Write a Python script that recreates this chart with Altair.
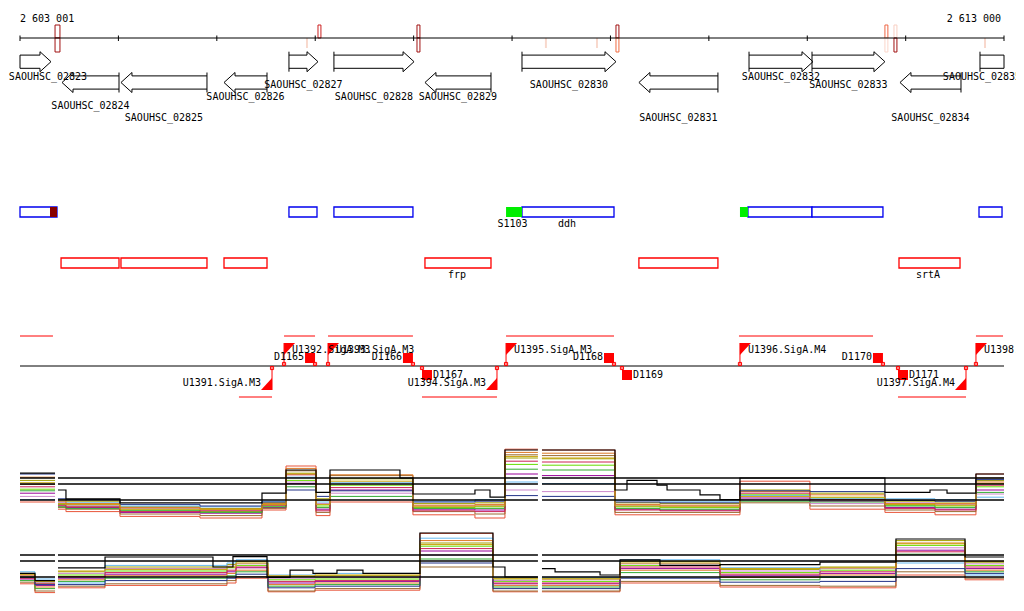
import altair as alt
import pandas as pd

# ----------------------------- data -----------------------------
VIEW_START, VIEW_END = 2603001, 2613000
AXIS_TICKS = [2603001, 2604001, 2605001, 2606001, 2607001, 2608001,
              2609001, 2610001, 2611001, 2612001, 2613000]
AXIS_LABELS = ["2 603 001", "2 613 000"]

GENE_NAMES = ["SAOUHSC_02823", "SAOUHSC_02824", "SAOUHSC_02825", "SAOUHSC_02826",
              "SAOUHSC_02827", "SAOUHSC_02828", "SAOUHSC_02829", "SAOUHSC_02830",
              "SAOUHSC_02831", "SAOUHSC_02832", "SAOUHSC_02833", "SAOUHSC_02834",
              "SAOUHSC_02835"]
GENE_START = [2602800, 2603428, 2604027, 2605074, 2605734, 2606191, 2607116,
              2608102, 2609290, 2610409, 2611049, 2611943, 2612756]
GENE_END = [2603316, 2604007, 2604901, 2605511, 2606029, 2607005, 2607787,
            2609057, 2610093, 2611059, 2611790, 2612563, 2613300]
GENE_STRAND = ["+", "-", "-", "-", "+", "+", "-", "+", "-", "+", "+", "-", "+"]
GENE_LABEL_ROW = [0, 3, 4, 2, 1, 2, 2, 1, 4, 0, 1, 4, 0]

# variant markers on the ruler (left edge, width, upper colour, lower colour)
MARK_POS = [2603357, 2606029, 2607035, 2609057, 2611790, 2611882]
MARK_WIDTH = [50, 30, 30, 30, 30, 30]
MARK_UP = ["#a01010", "#cc2020", "#a01010", "#a01010", "#ee6644", "#f8cfc2"]
MARK_DOWN = ["#a01010", "", "#a01010", "#f06a40", "#fbd6ca", "#a01010"]
FAINT_POS = [2605907, 2608335, 2608854, 2612797]

# transcript boxes (row 1 blue outlined, row 2 red outlined)
BLUE_START = [2603001, 2605734, 2606191, 2608102, 2610398, 2611049, 2612746]
BLUE_END = [2603377, 2606019, 2606994, 2609037, 2611049, 2611770, 2612980]
FILL_START = [2603306, 2607940, 2610317]
FILL_END = [2603377, 2608102, 2610398]
FILL_COLOR = ["#880000", "#00ee00", "#00ee00"]
ROW1_LABELS = ["S1103", "ddh"]
ROW1_LABEL_POS = [2608006, 2608559]
RED_START = [2603418, 2604027, 2605074, 2607116, 2609290, 2611933]
RED_END = [2604007, 2604901, 2605511, 2607787, 2610093, 2612553]
ROW2_LABELS = ["frp", "srtA"]
ROW2_LABEL_POS = [2607441, 2612228]

# transcription units, promoters, terminators
TU_UP_START = [2603001, 2605684, 2606131, 2607940, 2610307, 2612715]
TU_UP_END = [2603336, 2605999, 2606994, 2609037, 2611669, 2612990]
TU_DN_START = [2605226, 2607086, 2611923]
TU_DN_END = [2605562, 2607848, 2612614]
PROM_NAME = ["U1391.SigA.M3", "U1392.SigA.M3", "U1393.SigA.M3", "U1394.SigA.M3",
             "U1395.SigA.M3", "U1396.SigA.M4", "U1397.SigA.M4", "U1398.SigA.M3"]
PROM_POS = [2605562, 2605684, 2606131, 2607848, 2607940, 2610317, 2612614, 2612715]
PROM_STRAND = ["-", "+", "+", "-", "+", "+", "-", "+"]
TERM_NAME = ["D1165", "D1166", "D1167", "D1168", "D1169", "D1170", "D1171"]
TERM_POS = [2605999, 2606994, 2607086, 2609037, 2609118, 2611770, 2611923]
TERM_STRAND = ["+", "+", "-", "+", "-", "+", "-"]

# expression profiles: segment break points (bp) per contiguous piece
P1_BREAKS = [
    [2603001, 2603357],
    [2603387, 2603468, 2604017, 2604830, 2605460, 2605704, 2606009, 2606151,
     2606994, 2607624, 2607929, 2608264],
    [2608305, 2609047, 2609504, 2610317, 2611028, 2611790, 2612299, 2612715, 2613000],
]
P1_SERIES = {
    "s01": [3.5, 2.6, 2.3, 1.7, 1.5, 2.5, 8.0, 1.8, 3.5, 1.9, 1.5, 10.1, 10.0, 1.9, 1.9, 6.1, 2.6, 2.2, 1.9, 7.0],
    "s02": [6.2, 3.8, 3.6, 2.9, 2.7, 3.4, 7.1, 3.9, 6.4, 3.3, 3.4, 9.0, 8.9, 3.4, 3.3, 5.0, 4.6, 3.6, 3.5, 6.2],
    "s03": [5.1, 3.2, 3.0, 2.5, 2.3, 3.0, 6.2, 3.0, 5.6, 2.8, 2.9, 8.2, 8.1, 2.9, 2.8, 4.4, 4.0, 3.1, 3.0, 5.4],
    "s04": [4.6, 3.0, 2.8, 2.2, 2.1, 2.8, 5.8, 2.6, 5.0, 2.6, 2.5, 7.0, 6.8, 2.6, 2.5, 4.0, 3.6, 2.8, 2.6, 5.0],
    "s05": [3.8, 3.5, 3.4, 3.0, 2.9, 3.6, 6.6, 3.5, 5.9, 3.6, 3.8, 6.0, 5.8, 3.7, 3.6, 4.3, 3.9, 3.9, 3.8, 4.1],
    "s06": [5.7, 2.8, 2.6, 2.0, 1.8, 2.7, 7.4, 2.2, 6.8, 2.3, 2.0, 9.4, 9.3, 2.2, 2.2, 3.4, 3.0, 2.5, 2.3, 6.5],
    "s07": [4.2, 3.4, 3.1, 2.7, 2.5, 3.2, 6.0, 3.3, 4.6, 3.0, 3.1, 5.0, 4.8, 3.1, 3.0, 3.8, 3.3, 3.4, 3.2, 4.5],
    "s08": [6.6, 3.6, 3.3, 2.8, 2.6, 3.3, 7.7, 3.7, 6.9, 3.1, 3.2, 9.7, 9.6, 3.2, 3.1, 4.8, 4.4, 3.3, 3.3, 6.0],
    "s09": [4.9, 2.9, 2.7, 2.4, 2.2, 2.9, 5.4, 2.8, 4.2, 2.7, 2.7, 7.6, 7.5, 2.7, 2.6, 3.6, 3.5, 3.0, 2.8, 4.7],
    "s10": [5.4, 3.1, 2.9, 2.3, 2.4, 3.1, 6.9, 2.4, 5.3, 2.4, 2.3, 8.6, 8.5, 2.5, 2.4, 4.6, 3.8, 2.7, 2.5, 5.6],
    "s11": [7.0, 3.9, 3.8, 3.2, 3.0, 3.5, 5.0, 4.2, 4.9, 3.5, 3.6, 4.3, 4.2, 3.5, 3.4, 4.9, 4.8, 3.7, 3.6, 6.3],
    "s12": [5.9, 3.3, 3.2, 2.6, 2.6, 3.2, 7.0, 3.2, 6.1, 2.9, 3.0, 9.2, 9.0, 3.0, 2.9, 4.2, 4.1, 3.2, 3.1, 5.8],
}
P1_BLACK_BREAKS = [
    [2603001, 2603357],
    [2603387, 2603468, 2604017, 2605460, 2605704, 2606009, 2606151, 2606862,
     2606994, 2607624, 2607777, 2607929, 2608264],
    [2608305, 2609047, 2609169, 2609474, 2609576, 2609911, 2610114, 2610317,
     2611790, 2612248, 2612421, 2612715, 2613000],
]
P1_BLACK = [7.1,
            5.0, 3.9, 3.4, 4.6, 7.5, 4.7, 7.5, 6.5, 4.5, 5.0, 4.1, 10.0,
            10.0, 5.0, 6.2, 5.6, 5.0, 4.4, 3.8, 6.5, 4.7, 5.0, 4.6, 7.0]

P2_BREAKS = [
    [2603001, 2603153, 2603357],
    [2603387, 2603865, 2605104, 2605196, 2605521, 2605999, 2607065, 2607807, 2608264],
    [2608305, 2609098, 2610114, 2611130, 2611902, 2612604, 2613000],
]
P2_SERIES = {
    "s01": [2.9, 1.8, 2.4, 2.7, 3.0, 3.6, 1.9, 2.1, 9.2, 1.9, 1.9, 3.0, 2.5, 2.4, 4.0, 3.4],
    "s02": [4.2, 3.3, 4.4, 5.0, 5.3, 5.7, 3.8, 3.9, 8.0, 3.5, 3.6, 5.7, 4.7, 5.0, 8.3, 5.6],
    "s03": [3.8, 3.0, 4.0, 4.5, 4.9, 5.2, 3.4, 3.5, 7.6, 3.2, 3.2, 5.2, 4.3, 4.6, 7.7, 5.2],
    "s04": [3.5, 2.7, 3.6, 4.1, 4.4, 4.9, 3.0, 3.2, 7.0, 2.9, 2.9, 4.8, 3.9, 4.2, 7.1, 4.8],
    "s05": [4.4, 3.5, 3.0, 5.2, 5.5, 5.9, 4.0, 4.2, 8.6, 3.7, 3.7, 5.9, 4.9, 3.8, 5.5, 4.0],
    "s06": [3.1, 2.0, 2.6, 2.9, 3.3, 3.8, 2.0, 2.3, 5.0, 2.0, 2.0, 3.2, 2.7, 2.6, 4.4, 3.6],
    "s07": [3.9, 3.1, 4.2, 4.8, 5.1, 5.4, 3.6, 3.7, 6.5, 3.3, 3.4, 5.4, 4.5, 4.8, 7.4, 5.4],
    "s08": [4.0, 2.5, 3.4, 3.9, 4.2, 4.6, 2.8, 3.0, 8.3, 2.7, 2.7, 4.6, 3.7, 4.0, 8.0, 4.6],
    "s09": [3.3, 2.3, 3.2, 3.6, 3.9, 4.4, 2.6, 2.8, 6.0, 2.5, 2.5, 4.3, 3.4, 3.7, 6.6, 4.4],
    "s10": [3.6, 2.9, 3.8, 4.3, 4.6, 5.0, 3.2, 3.3, 7.3, 3.0, 3.0, 5.0, 4.1, 4.4, 6.9, 5.0],
    "s11": [3.7, 2.8, 2.8, 3.3, 3.6, 4.1, 2.4, 2.6, 5.5, 2.3, 2.3, 3.6, 3.1, 3.2, 4.8, 4.2],
    "s12": [4.1, 3.2, 4.5, 4.7, 5.0, 5.5, 3.9, 4.0, 7.8, 3.6, 3.5, 5.5, 4.8, 4.9, 7.9, 5.7],
}
P2_BLACK_BREAKS = [
    [2603001, 2603153, 2603357],
    [2603387, 2603865, 2604962, 2605165, 2605511, 2605745, 2605978, 2606222,
     2606486, 2607065, 2607807, 2607929, 2608264],
    [2608305, 2608438, 2608895, 2609098, 2609504, 2610114, 2611130, 2611902,
     2612604, 2613000],
]
P2_BLACK = [4.2, 3.3,
            4.9, 6.25, 5.0, 6.3, 3.7, 4.6, 4.2, 4.6, 4.2, 9.25, 5.0, 3.75,
            4.8, 4.4, 4.0, 5.9, 5.2, 5.3, 5.6, 8.5, 6.25]
SERIES_COLORS = ["#e8553a", "#a0a000", "#66dd00", "#990099", "#66b8f0", "#9a6a30",
                 "#cc88cc", "#dd7722", "#33aa33", "#cc2255", "#223388", "#c8a000"]
THRESHOLDS = [6.5, 5.75, 3.75]

# ----------------------------- layout (plot pixels) -----------------------------
W, H = 1008, 595
BP_PX = (VIEW_END - VIEW_START) / 984.0
HEAD_BP = 11 * BP_PX
AXIS_Y = 30
FWD_Y, REV_Y, BODY_H, HEAD_H = 53.7, 74.5, 6.6, 10.0
LABEL_ROWS = [68.7, 77.0, 89.3, 98.0, 110.3]
LABEL_MIN_CENTER = VIEW_START + 28 * BP_PX   # keep edge labels inside the page
LABEL_MAX_CENTER = VIEW_END - 22 * BP_PX
FONT = "DejaVu Sans Mono"
RED, BLUE = "#ff0000", "#0000ee"

X = alt.Scale(domain=[VIEW_START, VIEW_END], range=[12, 996])
LAY = alt.Scale(domain=[0, H], range=[0, H])
P1 = alt.Scale(domain=[0, 12], range=[522, 426])
P2 = alt.Scale(domain=[0, 12], range=[599, 503])


def xq(f="x"):
    return alt.X(f"{f}:Q", scale=X, axis=None)


def yl(f="y"):
    return alt.Y(f"{f}:Q", scale=LAY, axis=None)


segs = []


def seg(x, x2, y, y2, c="black", w=1.0):
    segs.append(dict(x=x, x2=x2, y=y, y2=y2, c=c, w=w))


# ruler
seg(VIEW_START, VIEW_END, AXIS_Y, AXIS_Y)
for t in AXIS_TICKS:
    seg(t, t, AXIS_Y - 2.5, AXIS_Y + 3)

# genes
heads, glabels = [], []
for name, s, e, st, row in zip(GENE_NAMES, GENE_START, GENE_END, GENE_STRAND, GENE_LABEL_ROW):
    vs, ve = max(s, VIEW_START), min(e, VIEW_END)
    cy = FWD_Y if st == "+" else REV_Y
    if st == "+":
        b0 = vs
        b1 = e - HEAD_BP if e <= VIEW_END else VIEW_END
        if e <= VIEW_END:
            heads.append(dict(x=e, y=cy, st="g" + st))
        else:
            seg(VIEW_END, VIEW_END, cy - BODY_H, cy + BODY_H)
        if s >= VIEW_START:
            seg(s, s, cy - HEAD_H, cy + HEAD_H)
        else:
            seg(VIEW_START, VIEW_START, cy - BODY_H, cy + BODY_H)
    else:
        b0 = s + HEAD_BP if s >= VIEW_START else VIEW_START
        b1 = ve
        if s >= VIEW_START:
            heads.append(dict(x=s, y=cy, st="g" + st))
        else:
            seg(VIEW_START, VIEW_START, cy - BODY_H, cy + BODY_H)
        if e <= VIEW_END:
            seg(e, e, cy - HEAD_H, cy + HEAD_H)
        else:
            seg(VIEW_END, VIEW_END, cy - BODY_H, cy + BODY_H)
    seg(b0, b1, cy - BODY_H, cy - BODY_H)
    seg(b0, b1, cy + BODY_H, cy + BODY_H)
    mid = min(max((vs + ve) / 2, LABEL_MIN_CENTER), LABEL_MAX_CENTER)
    glabels.append(dict(x=mid, y=LABEL_ROWS[row], t=name))

# promoter / terminator track
seg(VIEW_START, VIEW_END, 358, 358)
for a, b in zip(TU_UP_START, TU_UP_END):
    seg(a, b, 328, 328, RED)
for a, b in zip(TU_DN_START, TU_DN_END):
    seg(a, b, 389, 389, RED)
flags, plabels, small = [], [], []
for n, p, st in zip(PROM_NAME, PROM_POS, PROM_STRAND):
    if st == "+":
        seg(p, p, 358, 335, RED)
        flags.append(dict(x=p, y=341, st="p" + st))
        plabels.append(dict(x=p, y=342, t=n, st=st))
        small.append(dict(x=p, y=356))
    else:
        seg(p, p, 358, 382, RED)
        flags.append(dict(x=p, y=376, st="p" + st))
        plabels.append(dict(x=p, y=375, t=n, st=st))
        small.append(dict(x=p, y=360))
terms, tlabels = [], []
for n, p, st in zip(TERM_NAME, TERM_POS, TERM_STRAND):
    if st == "+":
        seg(p, p, 355, 358, RED)
        terms.append(dict(x=p, y=350, st="t" + st))
        tlabels.append(dict(x=p, y=349, t=n, st=st))
        small.append(dict(x=p, y=356))
    else:
        seg(p, p, 358, 362, RED)
        terms.append(dict(x=p, y=367, st="t" + st))
        tlabels.append(dict(x=p, y=367, t=n, st=st))
        small.append(dict(x=p, y=360))

seg_df = pd.DataFrame(segs)

# markers on ruler
mrows = []
for p, w, cu, cd in zip(MARK_POS, MARK_WIDTH, MARK_UP, MARK_DOWN):
    if cu:
        mrows.append(dict(x=p, x2=p + w, y=17, y2=AXIS_Y, c=cu))
    if cd:
        mrows.append(dict(x=p, x2=p + w, y=AXIS_Y, y2=44, c=cd))
faint = pd.DataFrame([dict(x=p, x2=p + 20, y=AXIS_Y, y2=40) for p in FAINT_POS])

boxes = pd.DataFrame(
    [dict(x=a, x2=b, y=199, y2=209, c=BLUE) for a, b in zip(BLUE_START, BLUE_END)] +
    [dict(x=a, x2=b, y=250, y2=260, c=RED) for a, b in zip(RED_START, RED_END)])
fills = pd.DataFrame([dict(x=a, x2=b, y=199, y2=209, c=c)
                      for a, b, c in zip(FILL_START, FILL_END, FILL_COLOR)])
box_labels = pd.DataFrame(
    [dict(x=p, y=216, t=t) for p, t in zip(ROW1_LABEL_POS, ROW1_LABELS)] +
    [dict(x=p, y=267, t=t) for p, t in zip(ROW2_LABEL_POS, ROW2_LABELS)])


def build(breaks, series):
    rows = []
    for name, vals in series.items():
        k = 0
        for pi, br in enumerate(breaks):
            n = len(br) - 1
            for i in range(n):
                rows.append(dict(s=name, piece=pi, x=br[i], v=vals[k + i]))
            rows.append(dict(s=name, piece=pi, x=br[-1], v=vals[k + n - 1]))
            k += n
    return pd.DataFrame(rows)


def thr_rows(breaks):
    return pd.DataFrame([dict(x=br[0], x2=br[-1], v=t) for br in breaks for t in THRESHOLDS])


names = list(P1_SERIES.keys())
cscale = alt.Scale(domain=names, range=SERIES_COLORS)

# ----------------------------- layers -----------------------------
layers = []
layers.append(alt.Chart(pd.DataFrame(mrows)).mark_rect(fill="white", strokeWidth=1).encode(
    x=xq(), x2="x2:Q", y=yl(), y2="y2:Q", stroke=alt.Stroke("c:N", scale=None)))
layers.append(alt.Chart(faint).mark_rect(color="#f8d8cc").encode(x=xq(), x2="x2:Q", y=yl(), y2="y2:Q"))

layers.append(alt.Chart(seg_df).mark_rule().encode(
    x=xq(), x2="x2:Q", y=yl(), y2="y2:Q",
    color=alt.Color("c:N", scale=None), strokeWidth=alt.StrokeWidth("w:Q", scale=None)))

HEAD_F = "M-2,-1.2L-2,-1.82L0,0L-2,1.82L-2,1.2"
HEAD_R = "M2,-1.2L2,-1.82L0,0L2,1.82L2,1.2"
layers.append(alt.Chart(pd.DataFrame(heads)).mark_point(
    filled=False, color="black", opacity=1, size=121, strokeWidth=1).encode(
    x=xq(), y=yl(),
    shape=alt.Shape("st:N", scale=alt.Scale(domain=["g+", "g-"], range=[HEAD_F, HEAD_R]), legend=None)))

txt = dict(font=FONT, fontSize=10, color="black", baseline="middle")
layers.append(alt.Chart(pd.DataFrame(glabels)).mark_text(align="center", **txt).encode(
    x=xq(), y=yl(), text="t:N"))
layers.append(alt.Chart(pd.DataFrame([dict(x=AXIS_TICKS[0], y=11, t=AXIS_LABELS[0])])).mark_text(
    align="left", **txt).encode(x=xq(), y=yl(), text="t:N"))
layers.append(alt.Chart(pd.DataFrame([dict(x=AXIS_TICKS[-1], y=11, t=AXIS_LABELS[1])])).mark_text(
    align="right", dx=-3, **txt).encode(x=xq(), y=yl(), text="t:N"))

layers.append(alt.Chart(boxes).mark_rect(fill="white", strokeWidth=1.3).encode(
    x=xq(), x2="x2:Q", y=yl(), y2="y2:Q", stroke=alt.Stroke("c:N", scale=None)))
layers.append(alt.Chart(fills).mark_rect().encode(
    x=xq(), x2="x2:Q", y=yl(), y2="y2:Q", color=alt.Color("c:N", scale=None)))
layers.append(alt.Chart(box_labels).mark_text(align="center", **txt).encode(x=xq(), y=yl(), text="t:N"))

FLAG_F = "M0,-1.1L2,-1.1L0,1.1Z"
FLAG_R = "M0,1.1L-2,1.1L0,-1.1Z"
layers.append(alt.Chart(pd.DataFrame(flags)).mark_point(
    filled=True, color=RED, opacity=1, size=121, strokeWidth=0).encode(
    x=xq(), y=yl(),
    shape=alt.Shape("st:N", scale=alt.Scale(domain=["p+", "p-"], range=[FLAG_F, FLAG_R]), legend=None)))
TERM_F = "M-2,-1L0,-1L0,1L-2,1Z"
TERM_R = "M0,-1L2,-1L2,1L0,1Z"
layers.append(alt.Chart(pd.DataFrame(terms)).mark_point(
    filled=True, color=RED, opacity=1, size=100, strokeWidth=0).encode(
    x=xq(), y=yl(),
    shape=alt.Shape("st:N", scale=alt.Scale(domain=["t+", "t-"], range=[TERM_F, TERM_R]), legend=None)))
layers.append(alt.Chart(pd.DataFrame(small)).mark_point(
    shape="square", filled=False, color=RED, opacity=1, size=10, strokeWidth=1).encode(x=xq(), y=yl()))

pl = pd.DataFrame(plabels)
tl = pd.DataFrame(tlabels)
layers.append(alt.Chart(pl[pl.st == "+"]).mark_text(align="left", dx=8, **txt).encode(x=xq(), y=yl(), text="t:N"))
layers.append(alt.Chart(pl[pl.st == "-"]).mark_text(align="right", dx=-11, **txt).encode(x=xq(), y=yl(), text="t:N"))
layers.append(alt.Chart(tl[tl.st == "+"]).mark_text(align="right", dx=-11, **txt).encode(x=xq(), y=yl(), text="t:N"))
layers.append(alt.Chart(tl[tl.st == "-"]).mark_text(align="left", dx=11, **txt).encode(x=xq(), y=yl(), text="t:N"))

# expression panels
for breaks, series, bbreaks, black, sc in [(P1_BREAKS, P1_SERIES, P1_BLACK_BREAKS, P1_BLACK, P1),
                                           (P2_BREAKS, P2_SERIES, P2_BLACK_BREAKS, P2_BLACK, P2)]:
    df = build(breaks, series)
    layers.append(alt.Chart(df).mark_line(interpolate="step-after", strokeWidth=1).encode(
        x=xq(), y=alt.Y("v:Q", scale=sc, axis=None),
        color=alt.Color("s:N", scale=cscale, legend=None), detail=["s:N", "piece:N"]))
    bdf = build(bbreaks, {"black": black})
    layers.append(alt.Chart(bdf).mark_line(interpolate="step-after", strokeWidth=1.2, color="black").encode(
        x=xq(), y=alt.Y("v:Q", scale=sc, axis=None), detail="piece:N"))
    layers.append(alt.Chart(thr_rows(breaks)).mark_rule(color="black", strokeWidth=1.3).encode(
        x=xq(), x2="x2:Q", y=alt.Y("v:Q", scale=sc, axis=None)))

chart = alt.layer(*layers).resolve_scale(y="independent", shape="independent").properties(
    width=W, height=H, autosize="none", padding=0, background="white"
).configure_view(strokeWidth=0)

chart.save("out.html", embed_options={"renderer": "svg", "actions": False})
